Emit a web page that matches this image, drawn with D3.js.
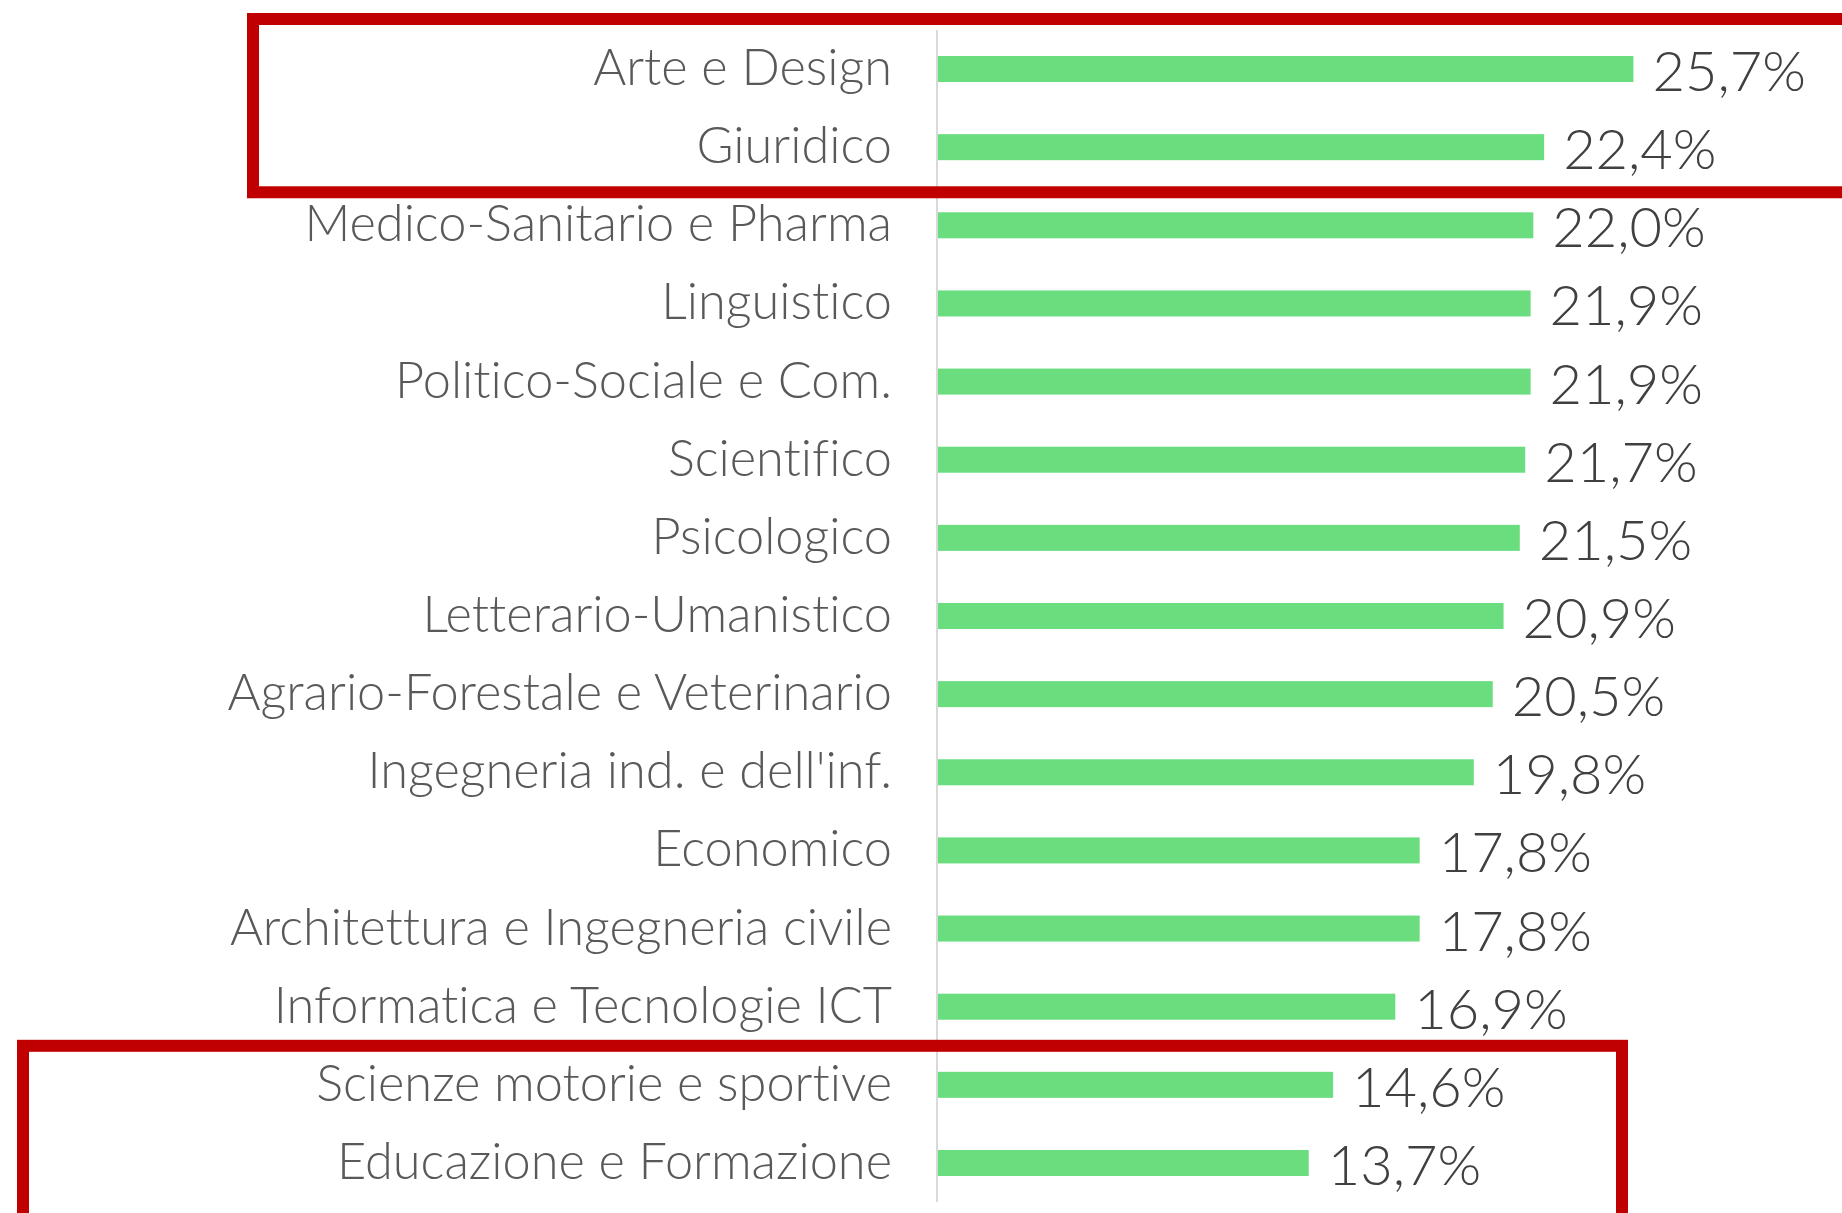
<!DOCTYPE html>
<html>
<head>
<meta charset="utf-8">
<script src="https://cdn.jsdelivr.net/npm/d3@7"></script>
<style>
  html, body { margin: 0; padding: 0; background: #fff; }
  svg { display: block; }
  text { font-variant-ligatures: none; font-feature-settings: "liga" 0, "clig" 0; }
</style>
</head>
<body>
<svg id="chart"></svg>
<script>
// categories, top to bottom
const categories = [
	'Arte e Design', 'Giuridico', 'Medico-Sanitario e Pharma', 'Linguistico',
	'Politico-Sociale e Com.', 'Scientifico', 'Psicologico', 'Letterario-Umanistico',
	'Agrario-Forestale e Veterinario', "Ingegneria ind. e dell'inf.", 'Economico',
	'Architettura e Ingegneria civile', 'Informatica e Tecnologie ICT',
	'Scienze motorie e sportive', 'Educazione e Formazione'
];
// percentage values
const values = [25.7, 22.4, 22.0, 21.9, 21.9, 21.7, 21.5, 20.9, 20.5, 19.8, 17.8, 17.8, 16.9, 14.6, 13.7];
const valueLabels = ['25,7%', '22,4%', '22,0%', '21,9%', '21,9%', '21,7%', '21,5%', '20,9%', '20,5%', '19,8%', '17,8%', '17,8%', '16,9%', '14,6%', '13,7%'];
// rows framed in red: [first, last]
const highlights = [[0, 1], [13, 14]];

let W = 1842, H = 1213;
let marg = { top: 30, bottom: 11, left: 938 };

const svg = d3.select('#chart').attr('width', W).attr('height', H);

const y = d3.scaleBand()
	.domain(categories)
	.range([marg.top, H - marg.bottom])
	.paddingInner(0.667)
	.paddingOuter(0.333);

const x = d3.scaleLinear()
	.domain([0, 30])
	.range([marg.left, marg.left + 30 * 27.06]);

// vertical axis line
svg.append('line')
	.attr('x1', marg.left - 1).attr('x2', marg.left - 1)
	.attr('y1', marg.top).attr('y2', H - marg.bottom)
	.attr('stroke', '#d9d9d9').attr('stroke-width', 2);

svg.selectAll('rect.bar')
	.data(values)
	.enter()
	.append('rect')
	.attr('class', 'bar')
	.attr('x', x(0))
	.attr('y', (d, i) => y(categories[i]))
	.attr('width', (d) => x(d) - x(0))
	.attr('height', y.bandwidth())
	.attr('fill', '#6ADD7E');

// category labels
svg.selectAll('text.cat')
	.data(categories)
	.enter()
	.append('text')
	.attr('class', 'cat')
	.attr('x', 892)
	.attr('y', (d) => y(d) + y.bandwidth() / 2)
	.attr('dy', 16)
	.attr('text-anchor', 'end')
	.attr('font-family', 'Lato, sans-serif')
	.attr('font-weight', 300)
	.attr('font-size', 50.5)
	.attr('fill', '#595959')
	.text((d) => d);

// value labels
svg.selectAll('text.val')
	.data(values)
	.enter()
	.append('text')
	.attr('class', 'val')
	.attr('x', (d) => x(d) + 19)
	.attr('y', (d, i) => y(categories[i]) + y.bandwidth() / 2)
	.attr('dy', 22)
	.attr('font-family', 'Lato, sans-serif')
	.attr('font-weight', 300)
	.attr('font-size', 56)
	.attr('fill', '#404040')
	.text((d, i) => valueLabels[i]);

// red frames around the first and last two rows
const step = y.step();
const frames = [
	{ rows: highlights[0], x0: 253, x1: 1860, top: -11, bot: 6 },
	{ rows: highlights[1], x0: 23, x1: 1622, top: 0, bot: 20 }
];
svg.selectAll('rect.frame')
	.data(frames)
	.enter()
	.append('rect')
	.attr('class', 'frame')
	.attr('x', (d) => d.x0)
	.attr('y', (d) => y(categories[d.rows[0]]) - (y.paddingOuter() * step) + d.top)
	.attr('width', (d) => d.x1 - d.x0)
	.attr('height', (d) => (d.rows[1] - d.rows[0] + 1) * step - d.top + d.bot)
	.attr('fill', 'none')
	.attr('stroke', '#C00000')
	.attr('stroke-width', 12);
</script>
</body>
</html>
